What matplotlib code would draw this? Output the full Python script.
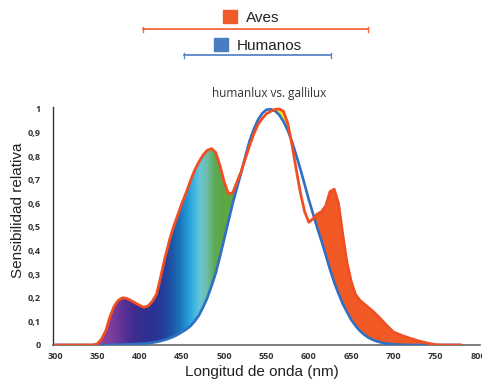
import numpy as np
import matplotlib
matplotlib.use("Agg")
import matplotlib.pyplot as plt
from matplotlib.colors import LinearSegmentedColormap
from matplotlib.path import Path
from matplotlib.patches import PathPatch, Rectangle
from matplotlib.lines import Line2D

# ---- data ----
wavelength = [300, 340, 345, 350, 355, 360, 365, 370, 375, 380, 385, 390, 395, 400, 405,
              410, 415, 420, 425, 430, 435, 440, 445, 450, 455, 460, 465, 470, 475, 480,
              485, 490, 495, 500, 505, 510, 515, 520, 525, 530, 535, 540, 545, 550, 555,
              560, 565, 570, 575, 580, 585, 590, 595, 600, 605, 610, 615, 620, 625, 630,
              635, 640, 645, 650, 655, 660, 665, 670, 675, 680, 685, 690, 695, 700, 710,
              720, 730, 740, 750, 760, 780]

gallilux = [0, 0, 0, 0.005, 0.025, 0.06, 0.12, 0.165, 0.19, 0.2, 0.197, 0.188, 0.178, 0.168, 0.16,
            0.165, 0.185, 0.215, 0.29, 0.37, 0.44, 0.5, 0.55, 0.6, 0.645, 0.695, 0.74, 0.775, 0.805, 0.825,
            0.832, 0.815, 0.76, 0.69, 0.64, 0.645, 0.69, 0.735, 0.79, 0.845, 0.895, 0.935, 0.96, 0.98, 0.99,
            0.998, 1.0, 0.99, 0.94, 0.85, 0.745, 0.645, 0.565, 0.52, 0.535, 0.555, 0.565, 0.59, 0.65, 0.66,
            0.6, 0.47, 0.35, 0.27, 0.215, 0.19, 0.175, 0.16, 0.145, 0.128, 0.11, 0.09, 0.072, 0.055, 0.04,
            0.028, 0.017, 0.008, 0.001, 0, 0]

humanlux = [0, 0, 0, 0, 0, 0, 0.001, 0.001, 0.002, 0.002, 0.003, 0.003, 0.004, 0.005, 0.006,
            0.008, 0.01, 0.013, 0.017, 0.022, 0.028, 0.035, 0.044, 0.055, 0.066, 0.08, 0.1, 0.125, 0.16, 0.2,
            0.25, 0.305, 0.375, 0.45, 0.525, 0.6, 0.665, 0.73, 0.8, 0.865, 0.915, 0.955, 0.982, 0.997, 0.999,
            0.992, 0.975, 0.947, 0.91, 0.862, 0.805, 0.745, 0.68, 0.615, 0.555, 0.495, 0.44, 0.38, 0.32, 0.265,
            0.218, 0.175, 0.14, 0.107, 0.082, 0.061, 0.045, 0.032, 0.023, 0.016, 0.011, 0.007, 0.005, 0.003, 0.001,
            0, 0, 0, 0, 0, 0]

x_ticks = [300, 350, 400, 450, 500, 550, 600, 650, 700, 750, 800]
y_ticks = [0, 0.1, 0.2, 0.3, 0.4, 0.5, 0.6, 0.7, 0.8, 0.9, 1.0]
y_ticklabels = ["0", "0,1", "0,2", "0,3", "0,4", "0,5", "0,6", "0,7", "0,8", "0,9", "1"]

# spectrum colours for the fill (nm, colour)
spectrum = [(300, "#9b3fa0"), (350, "#9b3fa0"), (365, "#7f3d9e"), (380, "#5b3095"),
            (395, "#3a2d8f"), (410, "#2e3192"), (425, "#28399a"), (435, "#1f4fa3"),
            (445, "#1b6cb5"), (455, "#2196d3"), (462, "#33b0e4"), (470, "#66c6d8"),
            (478, "#6dbfae"), (488, "#5daa55"), (500, "#5ea743"), (520, "#62a840"),
            (540, "#a9c43a"), (555, "#f2e31b"), (575, "#f7d917"), (590, "#f47a2a"),
            (600, "#f15a24"), (800, "#f15a24")]

ORANGE = "#f04e23"
BLUE = "#2f6fc4"

W, H = 482, 381
fig = plt.figure(figsize=(W / 100, H / 100), dpi=100)
fig.patch.set_facecolor("white")

xmin, xmax = 298, 802
ymin, ymax = 0, 1.01
ax_left = 53.3 / W
ax_w = (479.8 - 53.3) / W
ax_bot = 1 - 345 / H
ax_h = (345 - 106.6) / H
ax = fig.add_axes([ax_left, ax_bot, ax_w, ax_h])

wl = np.array(wavelength, dtype=float)
g = np.array(gallilux)
h = np.array(humanlux)

# gradient fill between curves where gallilux > humanlux
poly = ax.fill_between(wl, h, g, where=g >= h, interpolate=True,
                       facecolor="none", edgecolor="none")
compound = Path.make_compound_path(*poly.get_paths())
clip = PathPatch(compound, transform=ax.transData, facecolor="none", edgecolor="none")
ax.add_patch(clip)

cmap = LinearSegmentedColormap.from_list(
    "spec", [((n - 300) / 500, c) for n, c in spectrum])
grad = np.linspace(0, 1, 1000).reshape(1, -1)
im = ax.imshow(grad, extent=[300, 800, 0, 1.01], aspect="auto", cmap=cmap,
               origin="lower", interpolation="bilinear", zorder=1)
im.set_clip_path(clip)

ax.plot(wl, h, color=BLUE, lw=1.9, zorder=3, solid_capstyle="round")
ax.plot(wl, g, color=ORANGE, lw=2.0, zorder=4, solid_capstyle="round")

ax.set_xlim(xmin, xmax)
ax.set_ylim(ymin, ymax)
ax.set_xticks(x_ticks)
ax.set_xticklabels([str(t) for t in x_ticks])
ax.set_yticks(y_ticks)
ax.set_yticklabels(y_ticklabels)
ax.tick_params(length=0, labelsize=6.5, colors="#333333", pad=5)
ax.tick_params(axis="y", pad=9)
for lab in ax.get_xticklabels() + ax.get_yticklabels():
    lab.set_fontweight("bold")
    lab.set_family("Open Sans")
for s in ["top", "right"]:
    ax.spines[s].set_visible(False)
ax.spines["left"].set_color("#333333")
ax.spines["bottom"].set_color("#666666")
ax.spines["left"].set_linewidth(1.0)
ax.spines["bottom"].set_linewidth(1.2)
ax.set_facecolor("white")

fig.text(18 / W, 1 - 210 / H, "Sensibilidad relativa", rotation=90, ha="center",
         va="center", fontsize=11, family="Liberation Sans", color="#222222")
fig.text(261.5 / W, 1 - 372 / H, "Longitud de onda (nm)", ha="center", va="center",
         fontsize=11, family="Liberation Sans", color="#222222")
fig.text(269.5 / W, 1 - 93 / H, "humanlux vs. gallilux", ha="center", va="center",
         fontsize=8.5, family="Open Sans", color="#333333")

# legend overlay
ov = fig.add_axes([0, 0, 1, 1])
ov.set_xlim(0, W)
ov.set_ylim(H, 0)
ov.axis("off")
ov.patch.set_alpha(0)
ov.add_patch(Rectangle((223, 10), 14, 13, color="#f15a2b"))
ov.text(246, 17.5, "Aves", fontsize=11, family="Liberation Sans", va="center", color="#222222")
ov.add_patch(Rectangle((214, 38), 14, 13, color="#4a7cc3"))
ov.text(237, 45.5, "Humanos", fontsize=11, family="Liberation Sans", va="center", color="#222222")
ov.add_line(Line2D([143, 368], [29, 29], color="#f2683a", lw=1.3))
ov.add_line(Line2D([143, 143], [26.5, 31.5], color="#f2683a", lw=1.0))
ov.add_line(Line2D([368, 368], [26.5, 31.5], color="#f2683a", lw=1.0))
ov.add_line(Line2D([184, 331], [55, 55], color="#5b86c8", lw=1.3))
ov.add_line(Line2D([184, 184], [52.5, 57.5], color="#5b86c8", lw=1.0))
ov.add_line(Line2D([331, 331], [52.5, 57.5], color="#5b86c8", lw=1.0))

fig.savefig("out.png", dpi=100, facecolor="white")
